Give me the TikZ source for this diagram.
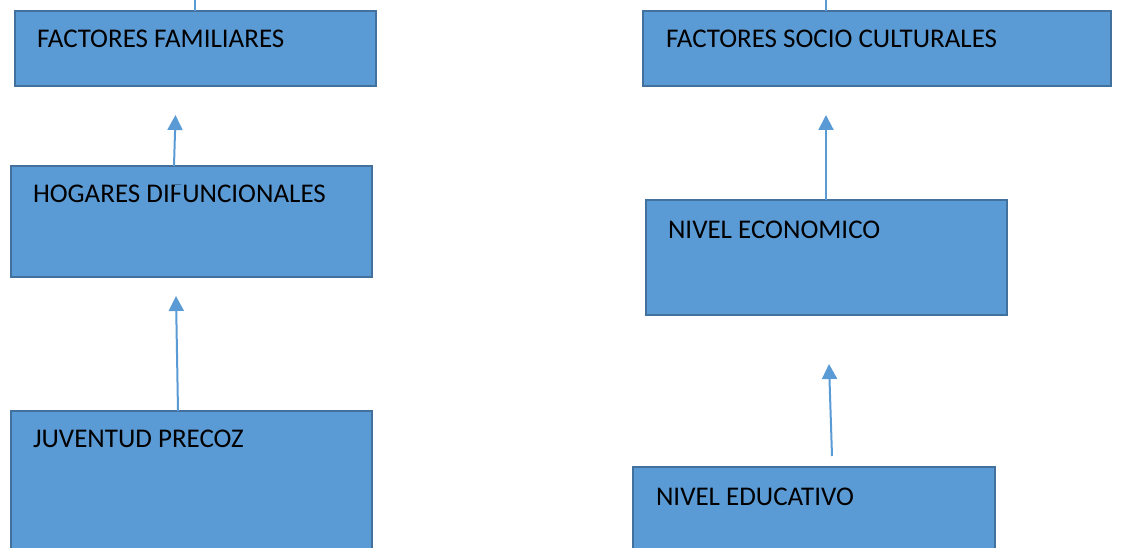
\documentclass[tikz,border=0pt]{standalone}
\usepackage{fontspec}
\setmainfont{Carlito}
\usetikzlibrary{arrows.meta}
\definecolor{boxfill}{HTML}{5B9BD5}
\definecolor{boxline}{HTML}{41719C}
\definecolor{linkcol}{HTML}{5B9BD5}
\begin{document}
\begin{tikzpicture}[x=1pt,y=-1pt,
  blockbox/.style={draw=boxline,fill=boxfill,line width=2pt,rectangle,
    inner sep=0pt,outer sep=0pt,anchor=north west},
  boxtext/.style={anchor=base west,inner sep=0pt,outer sep=0pt,
    font=\fontsize{27}{32}\selectfont,text=black},
  link/.style={draw=linkcol,line width=2pt,-{Triangle[width=15pt,length=15pt]}},
  feed/.style={draw=linkcol,line width=2pt}]
\useasboundingbox (0,0) rectangle (1121,548);
\clip (0,0) rectangle (1121,548);
\fill[white] (0,0) rectangle (1121,548);

% left column
\node[blockbox,minimum width=361pt,minimum height=75pt] (ff) at (15,11) {};
\node[boxtext] (ffT) at (37,48) {FACTORES FAMILIARES};
\node[blockbox,minimum width=361pt,minimum height=111pt] (hd) at (11,166) {};
\node[boxtext] (hdT) at (33,203) {HOGARES DI};
\node[boxtext] (hdF) at (hdT.base east) {F};
\node[boxtext] (hdR) at (hdF.base east) {UNCIONALES};
% the top bar of the F is worn away
\fill[boxfill] ([xshift=5.2pt,yshift=1pt]hdF.north west) rectangle ([xshift=1pt,yshift=-4.5pt]hdF.north east);
\node[blockbox,minimum width=361pt,minimum height=160pt] (jp) at (11,411) {};
\node[boxtext] (jpT) at (33,447.5) {JUVENTUD PRECOZ};

% right column
\node[blockbox,minimum width=468pt,minimum height=75pt] (fsc) at (643,11) {};
\node[boxtext] (fscT) at (666,48) {FACTORES SOCIO CULTURALES};
\node[blockbox,minimum width=361pt,minimum height=115pt] (ne) at (646,200) {};
\node[boxtext] (neT) at (668,238) {NIVEL ECONOMICO};
\node[blockbox,minimum width=362pt,minimum height=120pt] (ned) at (633,467) {};
\node[boxtext] (nedT) at (656,505) {NIVEL EDUCATIVO};

% connector ends
\coordinate (ffUp) at (195,-2);
\coordinate (fscUp) at (826,-2);
\coordinate (tipA) at (175.5,115);
\coordinate (tipB) at (176,296);
\coordinate (tipC) at (826,115);
\coordinate (tipD) at (829,364);
\coordinate (tailD) at (832,456);

% lines leaving the top boxes upwards
\draw[feed] (ff.north -| ffUp) -- (ffUp);
\draw[feed] (fsc.north -| fscUp) -- (fscUp);

% arrows between levels
\draw[link] ([xshift=-17.5pt]hd.north) -- (tipA);
\draw[link] ([xshift=-13.5pt]jp.north) -- (tipB);
\draw[link] (ne.north -| tipC) -- (tipC);
\draw[link] (tailD) -- (tipD);
\end{tikzpicture}
\end{document}
